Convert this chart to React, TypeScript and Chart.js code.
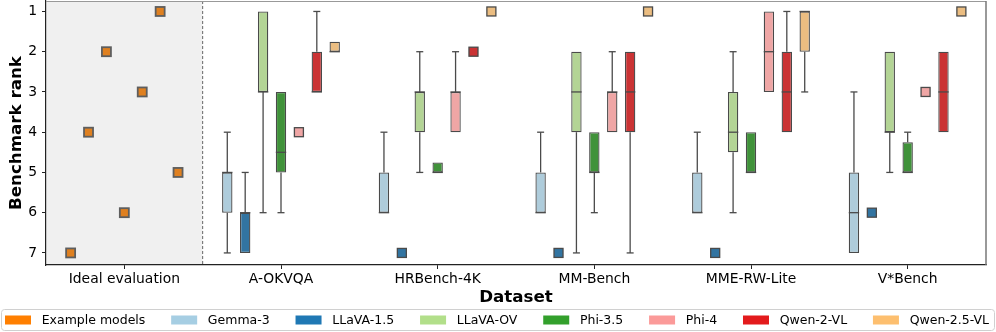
import React, { useEffect, useRef } from "react";
import { Chart, registerables } from "chart.js";

Chart.register(...registerables);

// ---------- data ----------
const datasetLabels = ["Ideal evaluation", "A-OKVQA", "HRBench-4K", "MM-Bench", "MME-RW-Lite", "V*Bench"];
const rankTicks = [1, 2, 3, 4, 5, 6, 7];
const modelNames = ["Gemma-3", "LLaVA-1.5", "LLaVA-OV", "Phi-3.5", "Phi-4", "Qwen-2-VL", "Qwen-2.5-VL"];
const legendColors = ["#a6cee3", "#1f78b4", "#b2df8a", "#33a02c", "#fb9a99", "#e31a1c", "#fdbf6f"];
const boxColors = ["#aeccdb", "#3274a1", "#b3d495", "#40923a", "#efa6a5", "#ca3334", "#ebbd81"];
const exampleLabel = "Example models";
const exampleLegendColor = "#ff7f00";
const exampleColor = "#df8020";
// rank of each example model, in hue-slot order
const exampleRanks = [7, 4, 2, 6, 3, 1, 5];

// [min, q1, median, q3, max] per benchmark: A-OKVQA, HRBench-4K, MM-Bench, MME-RW-Lite, V*Bench
const gemma3 = [[4, 5, 5, 6, 7], [4, 5, 6, 6, 6], [4, 5, 6, 6, 6], [4, 5, 6, 6, 6], [3, 5, 6, 7, 7]];
const llava15 = [[5, 6, 6, 7, 7], [7, 7, 7, 7, 7], [7, 7, 7, 7, 7], [7, 7, 7, 7, 7], [6, 6, 6, 6, 6]];
const llavaOV = [[1, 1, 3, 3, 6], [2, 3, 3, 4, 5], [2, 2, 3, 4, 7], [2, 3, 4, 4.5, 6], [2, 2, 4, 4, 5]];
const phi35 = [[3, 3, 4.5, 5, 6], [4.75, 4.75, 5, 5, 5], [4, 4, 5, 5, 6], [4, 4, 5, 5, 5], [4, 4.25, 5, 5, 5]];
const phi4 = [[4, 4, 4, 4, 4], [2, 3, 3, 4, 4], [2, 3, 3, 4, 4], [1, 1, 2, 3, 3], [3, 3, 3, 3, 3]];
const qwen2 = [[1, 2, 3, 3, 3], [2, 2, 2, 2, 2], [2, 2, 3, 4, 7], [1, 2, 3, 4, 4], [2, 2, 3, 4, 4]];
const qwen25 = [[1.75, 1.75, 2, 2, 2], [1, 1, 1, 1, 1], [1, 1, 1, 1, 1], [1, 1, 1, 2, 3], [1, 1, 1, 1, 1]];
const modelStats = [gemma3, llava15, llavaOV, phi35, phi4, qwen2, qwen25];

// ---------- styles ----------
const FONT = "DejaVu Sans";
const EDGE = "#4a4a4a";

function statsFor(i: number, j: number): number[] | null {
  if (j === 0) return null;
  return modelStats[i][j - 1];
}

const boxPlugin = {
  id: "boxplotExtras",
  beforeDraw(chart: any) {
    const { ctx, chartArea } = chart;
    const xs = chart.scales.x;
    const boundary = (xs.getPixelForValue(0) + xs.getPixelForValue(1)) / 2;
    ctx.save();
    ctx.fillStyle = "#f0f0f0";
    ctx.fillRect(chartArea.left, chartArea.top, boundary - chartArea.left, chartArea.bottom - chartArea.top);
    ctx.strokeStyle = "#666";
    ctx.lineWidth = 1;
    ctx.setLineDash([3, 2]);
    ctx.beginPath();
    ctx.moveTo(boundary, chartArea.top);
    ctx.lineTo(boundary, chartArea.bottom);
    ctx.stroke();
    ctx.restore();
  },
  beforeDatasetsDraw(chart: any) {
    const { ctx } = chart;
    const ys = chart.scales.y;
    ctx.save();
    ctx.strokeStyle = EDGE;
    ctx.lineWidth = 1.3;
    modelNames.forEach((_, i) => {
      const meta = chart.getDatasetMeta(i);
      meta.data.forEach((el: any, j: number) => {
        const s = statsFor(i, j);
        if (!s) return;
        const x = el.x;
        const cap = 3.5;
        const segs: [number, number][] = [];
        if (s[0] < s[1]) segs.push([s[0], s[1]]);
        if (s[4] > s[3]) segs.push([s[3], s[4]]);
        segs.forEach(([a, b]) => {
          const end = a < s[1] ? a : b;
          ctx.beginPath();
          ctx.moveTo(x, ys.getPixelForValue(a));
          ctx.lineTo(x, ys.getPixelForValue(b));
          ctx.stroke();
          const ye = ys.getPixelForValue(end);
          ctx.beginPath();
          ctx.moveTo(x - cap, ye);
          ctx.lineTo(x + cap, ye);
          ctx.stroke();
        });
      });
    });
    ctx.restore();
  },
  afterDatasetsDraw(chart: any) {
    const { ctx, chartArea } = chart;
    const ys = chart.scales.y;
    ctx.save();
    modelNames.forEach((_, i) => {
      const meta = chart.getDatasetMeta(i);
      meta.data.forEach((el: any, j: number) => {
        const w = el.width;
        if (j === 0) {
          // example model marker in this hue slot
          const y = ys.getPixelForValue(exampleRanks[i]);
          const side = 9;
          ctx.fillStyle = exampleColor;
          ctx.fillRect(el.x - side / 2, y - side / 2, side, side);
          ctx.strokeStyle = "#5e5e5e";
          ctx.lineWidth = 1.8;
          ctx.strokeRect(el.x - side / 2, y - side / 2, side, side);
          return;
        }
        const s = statsFor(i, j)!;
        if (s[1] === s[3]) {
          const y = ys.getPixelForValue(s[2]);
          const side = Math.round(w * 0.85);
          ctx.fillStyle = boxColors[i];
          ctx.fillRect(el.x - side / 2, y - side / 2, side, side);
          ctx.strokeStyle = EDGE;
          ctx.lineWidth = 1.3;
          ctx.strokeRect(el.x - side / 2, y - side / 2, side, side);
        } else {
          const y = ys.getPixelForValue(s[2]);
          ctx.strokeStyle = EDGE;
          ctx.lineWidth = 1.3;
          ctx.beginPath();
          ctx.moveTo(el.x - w / 2, y);
          ctx.lineTo(el.x + w / 2, y);
          ctx.stroke();
        }
      });
    });
    // top and right frame
    ctx.strokeStyle = "#999";
    ctx.lineWidth = 1;
    ctx.beginPath();
    ctx.moveTo(chartArea.left, chartArea.top + 0.5);
    ctx.lineTo(chartArea.right, chartArea.top + 0.5);
    ctx.stroke();
    ctx.strokeStyle = "#777";
    ctx.lineWidth = 1.5;
    ctx.beginPath();
    ctx.moveTo(chartArea.right, chartArea.top);
    ctx.lineTo(chartArea.right, chartArea.bottom);
    ctx.stroke();
    ctx.restore();
  },
  afterDraw(chart: any) {
    const { ctx, width } = chart;
    const names = [exampleLabel, ...modelNames];
    const colors = [exampleLegendColor, ...legendColors];
    ctx.save();
    // frame
    const fx = 1.5, fy = 309.5, fw = width - 3, fh = 21;
    ctx.fillStyle = "rgba(255,255,255,0.9)";
    ctx.strokeStyle = "#d0d0d0";
    ctx.lineWidth = 1;
    ctx.beginPath();
    (ctx as any).roundRect ? (ctx as any).roundRect(fx, fy, fw, fh, 3) : ctx.rect(fx, fy, fw, fh);
    ctx.fill();
    ctx.stroke();
    ctx.font = `12.5px "${FONT}"`;
    ctx.textBaseline = "middle";
    ctx.fillStyle = "#000";
    const patchW = 26, patchH = 9, toText = 10.7;
    const startX = 5, endX = 989;
    const widths = names.map((n) => ctx.measureText(n).width);
    const used = widths.reduce((a, b) => a + b + patchW + toText, 0);
    const gap = (endX - startX - used) / (names.length - 1);
    let x = startX;
    const cy = 320;
    names.forEach((n, k) => {
      ctx.fillStyle = colors[k];
      ctx.fillRect(x, cy - patchH / 2, patchW, patchH);
      ctx.fillStyle = "#000";
      ctx.fillText(n, x + patchW + toText, cy + 0.5);
      x += patchW + toText + widths[k] + gap;
    });
    ctx.restore();
  },
};

export default function App() {
  const ref = useRef<HTMLCanvasElement | null>(null);
  useEffect(() => {
    document.body.style.margin = "0";
    Chart.defaults.font.family = FONT;
    Chart.defaults.color = "#000";
    const canvas = ref.current!;
    const chart = new Chart(canvas, {
      type: "bar",
      data: {
        labels: datasetLabels,
        datasets: modelNames.map((name, i) => ({
          label: name,
          data: [null, ...modelStats[i].map((s) => (s[1] !== s[3] ? [s[1], s[3]] : null))] as any,
          backgroundColor: boxColors[i],
          borderColor: EDGE,
          borderWidth: 1.3,
          borderSkipped: false,
          categoryPercentage: 0.8,
          barPercentage: 0.58,
        })),
      },
      options: {
        animation: false,
        responsive: false,
        devicePixelRatio: 1,
        layout: { padding: { left: 0, right: 10, top: 1, bottom: 26 } },
        plugins: { legend: { display: false }, tooltip: { enabled: false } },
        scales: {
          x: {
            type: "category",
            offset: true,
            grid: { offset: false, drawOnChartArea: false, tickLength: 4, color: "#222", lineWidth: 1 },
            border: { display: true, color: "#222", width: 1.2 },
            ticks: { font: { size: 13.9 }, color: "#000", padding: 2, maxRotation: 0, autoSkip: false },
            title: {
              display: true,
              text: "Dataset",
              color: "#000",
              font: { size: 16.7, weight: "bold", lineHeight: 1 },
              padding: { top: 0, bottom: 0 },
            },
            afterFit(scale: any) {
              scale.height = 41;
              scale.paddingLeft = 0;
              scale.paddingRight = 0;
            },
          },
          y: {
            type: "linear",
            reverse: true,
            min: 0.74,
            max: 7.3,
            afterBuildTicks(scale: any) {
              scale.ticks = rankTicks.map((v) => ({ value: v }));
            },
            grid: { drawOnChartArea: false, tickLength: 4, color: "#222", lineWidth: 1 },
            border: { display: true, color: "#222", width: 1.2 },
            ticks: { font: { size: 13.9 }, color: "#000", padding: 5 },
            title: {
              display: true,
              text: "Benchmark rank",
              color: "#000",
              font: { size: 16.7, weight: "bold", lineHeight: 1.2 },
              padding: { top: 7, bottom: 0 },
            },
            afterFit(scale: any) {
              scale.width = 46;
              scale.paddingTop = 0;
              scale.paddingBottom = 0;
            },
          },
        },
      },
      plugins: [boxPlugin],
    });
    return () => chart.destroy();
  }, []);
  return (
    <div style={{ width: 996, height: 332, position: "relative" }}>
      <canvas ref={ref} width={996} height={332} style={{ display: "block" }} />
    </div>
  );
}
